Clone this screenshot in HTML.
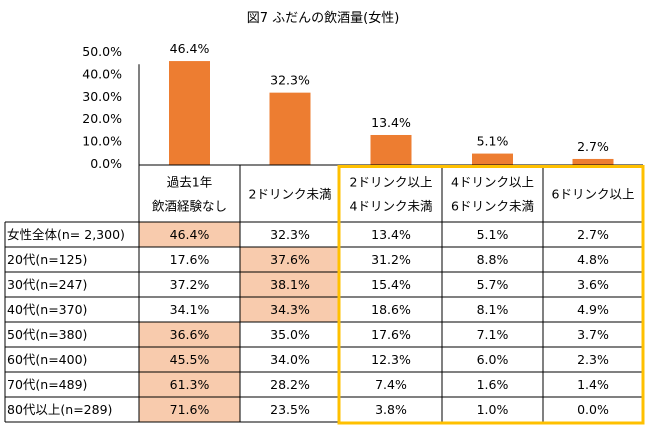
<!DOCTYPE html>
<html><head><meta charset="utf-8">
<style>
body{margin:0;background:#fff;}
svg text{font-family:"DejaVu Sans","Noto Sans CJK JP",sans-serif;font-size:12.5px;fill:#000;}
</style></head>
<body>
<svg id="c" width="646" height="425" xmlns="http://www.w3.org/2000/svg">
<text x="323" y="22" text-anchor="middle" style="font-size:13px">図7  ふだんの飲酒量(女性)</text>
<g id="g"></g>
</svg>
<script>
const categories=[["過去1年","飲酒経験なし"],["2ドリンク未満"],["2ドリンク以上","4ドリンク未満"],["4ドリンク以上","6ドリンク未満"],["6ドリンク以上"]];
const totals=[46.4,32.3,13.4,5.1,2.7];
const yTicks=[0,10,20,30,40,50];
const rowLabels=["女性全体(n= 2,300)","20代(n=125)","30代(n=247)","40代(n=370)","50代(n=380)","60代(n=400)","70代(n=489)","80代以上(n=289)"];
const tableValues=[
[46.4,32.3,13.4,5.1,2.7],
[17.6,37.6,31.2,8.8,4.8],
[37.2,38.1,15.4,5.7,3.6],
[34.1,34.3,18.6,8.1,4.9],
[36.6,35.0,17.6,7.1,3.7],
[45.5,34.0,12.3,6.0,2.3],
[61.3,28.2,7.4,1.6,1.4],
[71.6,23.5,3.8,1.0,0.0]];
const NS="http://www.w3.org/2000/svg";
const g=document.getElementById('g');
function mk(t,a,txt){const e=document.createElementNS(NS,t);for(const k in a)e.setAttribute(k,a[k]);if(txt!=null)e.textContent=txt;g.appendChild(e);return e;}
const colX=[5,139,240,340,442,543,643];
const base=165, pxPer=2.24;
const y=v=>base-v*pxPer;
const xc=i=>(colX[i+1]+colX[i+2])/2;
yTicks.forEach(t=>{
 const e=mk('text',{x:122,y:y(t)+3,'text-anchor':'end'},t.toFixed(1)+'%');
 
 
});
totals.forEach((v,i)=>{
 const r=mk('rect',{x:xc(i)-20.5,y:y(v),width:41,height:v*pxPer,fill:'#ED7D31'});
 
 
 const t=mk('text',{x:xc(i),y:y(v)-8,'text-anchor':'middle'},v.toFixed(1)+'%');
 
 
});
const hdrB=222, rowH=25;
tableValues.forEach((row,r)=>{
 const m=Math.max(...row.slice(0,2));
 row.forEach((v,c)=>{
  if(c<2&&v===m){
   const h=mk('rect',{x:colX[c+1],y:hdrB+r*rowH,width:colX[c+2]-colX[c+1],height:rowH,fill:'#F8CBAD'});
   
   
  }
 });
});
categories.forEach((lines,i)=>{
 const cy=(base+hdrB)/2;
 lines.forEach((l,k)=>{
  const t=mk('text',{x:xc(i),y:cy+5+(lines.length===2?(k?12:-12):0),'text-anchor':'middle'},l);
  
  
 });
});
rowLabels.forEach((lab,r)=>{
 const ty=hdrB+r*rowH+17;
 const t=mk('text',{x:7,y:ty},lab);
 
 
 tableValues[r].forEach((v,c)=>{
  const e=mk('text',{x:xc(c),y:ty,'text-anchor':'middle'},v.toFixed(1)+'%');
  
  
 });
});
const bot=hdrB+rowLabels.length*rowH;
mk('line',{x1:colX[1],y1:y(45),x2:colX[1],y2:bot,stroke:'#000'});
mk('line',{x1:colX[1],y1:base,x2:colX[6],y2:base,stroke:'#000'});
for(let i=2;i<=6;i++)mk('line',{x1:colX[i],y1:base,x2:colX[i],y2:bot,stroke:'#000'});
mk('line',{x1:colX[0],y1:hdrB,x2:colX[0],y2:bot,stroke:'#000'});
for(let r=0;r<=rowLabels.length;r++)mk('line',{x1:colX[0],y1:hdrB+r*rowH,x2:colX[6],y2:hdrB+r*rowH,stroke:'#000'});
const b=mk('rect',{x:colX[3]-1,y:base+1.5,width:colX[6]-colX[3]+1,height:bot-base-0.5,fill:'none',stroke:'#FFC000','stroke-width':3});


</script>
</body></html>
